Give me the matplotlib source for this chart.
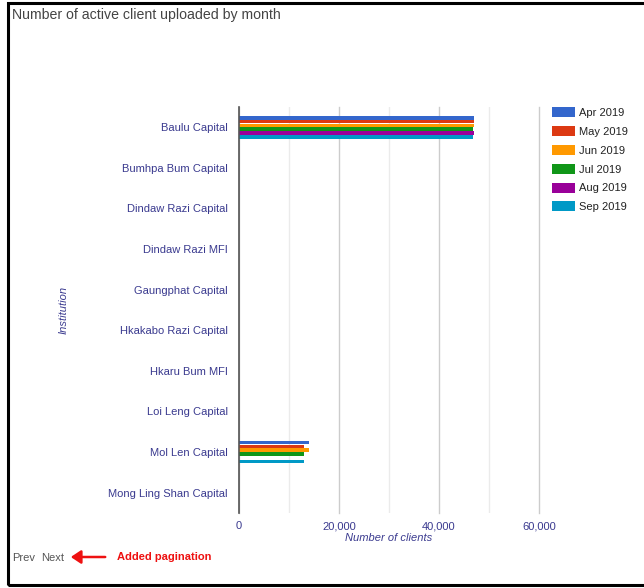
import numpy as np
import matplotlib.pyplot as plt
from matplotlib.patches import Rectangle, FancyArrowPatch

plt.rcParams['font.family'] = ['Liberation Sans', 'DejaVu Sans']

institutions = ['Baulu Capital', 'Bumhpa Bum Capital', 'Dindaw Razi Capital',
                'Dindaw Razi MFI', 'Gaungphat Capital', 'Hkakabo Razi Capital',
                'Hkaru Bum MFI', 'Loi Leng Capital', 'Mol Len Capital',
                'Mong Ling Shan Capital']
months = ['Apr 2019', 'May 2019', 'Jun 2019', 'Jul 2019', 'Aug 2019', 'Sep 2019']
colors = ['#3366cc', '#dc3912', '#ff9900', '#109618', '#990099', '#0099c6']

# clients per institution, one list per month
apr = [46900, 0, 0, 0, 0, 0, 0, 0, 13900, 0]
may = [46900, 0, 0, 0, 0, 0, 0, 0, 12900, 0]
jun = [47000, 0, 0, 0, 0, 0, 0, 0, 14000, 0]
jul = [46800, 0, 0, 0, 0, 0, 0, 0, 13000, 0]
aug = [47000, 0, 0, 0, 0, 0, 0, 0, 0, 0]
sep = [46800, 0, 0, 0, 0, 0, 0, 0, 12900, 0]
series = [apr, may, jun, jul, aug, sep]

W, H = 644, 588
fig = plt.figure(figsize=(W / 100, H / 100), dpi=100)
ax = fig.add_axes([239 / W, 1 - 513 / H, 300 / W, 406 / H])

n = len(months)
bh = 0.094
y = np.arange(len(institutions))
for i, (vals, c, m) in enumerate(zip(series, colors, months)):
    off = (i - (n - 1) / 2) * bh
    ax.barh(y + off, vals, height=bh * 0.97, color=c, label=m, zorder=3)

ax.set_ylim(len(institutions) - 0.5, -0.5)
ax.set_xlim(0, 60000)
ax.set_xticks([0, 20000, 40000, 60000])
ax.set_xticklabels(['0', '20,000', '40,000', '60,000'])
ax.set_xticks([10000, 30000, 50000], minor=True)
ax.set_yticks(y)
ax.set_yticklabels(institutions)
label_col = '#3a3a8f'
ax.tick_params(axis='y', length=0, labelsize=8, labelcolor=label_col, pad=8)
ax.tick_params(axis='x', length=0, labelsize=8, labelcolor=label_col, pad=6)
ax.tick_params(axis='x', which='minor', length=0)
ax.grid(axis='x', which='major', color='#cccccc', lw=1, zorder=0)
ax.grid(axis='x', which='minor', color='#ebebeb', lw=1, zorder=0)
for line in ax.get_xgridlines():
    line.set_clip_on(False)
for s in ['top', 'right', 'bottom']:
    ax.spines[s].set_visible(False)
ax.spines['left'].set_color('#555555')
ax.spines['left'].set_linewidth(1.2)
ax.spines['left'].set_zorder(4)
ax.set_xlabel('Number of clients', fontsize=8, style='italic', color=label_col, labelpad=1)
ax.set_ylabel('Institution', fontsize=8, style='italic', color=label_col, labelpad=0)
ax.yaxis.set_label_coords(-(239 - 69) / 300, 0.5)

ax.legend(loc='upper left', bbox_to_anchor=(548 / W, 1 - 103 / H),
          bbox_transform=fig.transFigure, frameon=False, fontsize=8,
          handlelength=2.0, handleheight=1.0, labelspacing=0.72,
          handletextpad=0.35, borderaxespad=0, labelcolor='#222222')

fig.text(12 / W, 1 - 15 / H, 'Number of active client uploaded by month',
         fontsize=10.2, color='#444444', va='center')

# outer frame
fig.add_artist(Rectangle((8 / W, 3 / H), 1.2, 1 - 6 / H, transform=fig.transFigure,
                         fill=False, ec='black', lw=2.2))

fig.text(12 / W, 1 - 558 / H, 'Prev', fontsize=8, color='#555555', va='center')
fig.text(41 / W, 1 - 558 / H, 'Next', fontsize=8, color='#555555', va='center')
fig.add_artist(FancyArrowPatch((108 / W, 1 - 557 / H), (68 / W, 1 - 557 / H),
                               transform=fig.transFigure, arrowstyle='-|>,head_length=6,head_width=4',
                               color='#ee1111', lw=1.8))
fig.text(117 / W, 1 - 557 / H, 'Added pagination', fontsize=8, color='#ee1111',
         fontweight='bold', va='center')

fig.savefig('out.png', dpi=100)
